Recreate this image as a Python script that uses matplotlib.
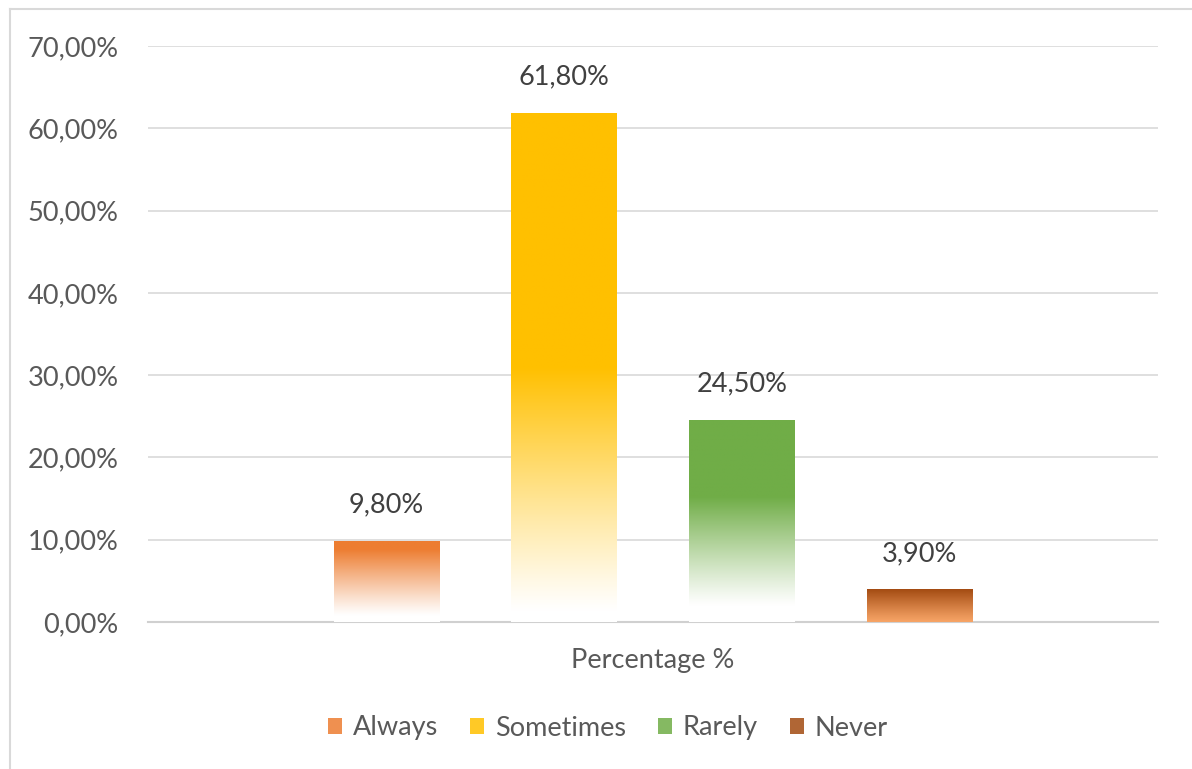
import numpy as np
import matplotlib
matplotlib.use("Agg")
import matplotlib.pyplot as plt
from matplotlib.colors import to_rgb
from matplotlib.patches import Rectangle
from matplotlib.lines import Line2D

# Data
series = ['Always', 'Sometimes', 'Rarely', 'Never']
values = [9.80, 61.80, 24.50, 3.90]
category = 'Percentage %'

# gradient colours: (top, bottom)
top_colors = ['#ED7D31', '#FFC000', '#70AD47', '#A34B12']
bottom_colors = ['#FFFFFF', '#FFFFFF', '#FFFFFF', '#F7A466']

plt.rcParams['font.family'] = ['Lato', 'DejaVu Sans']
text_col = '#595959'
fs = 19.5

fig = plt.figure(figsize=(11.92, 7.69), dpi=100)
ax = fig.add_axes([148 / 1192, 1 - 622 / 769, 1010 / 1192, 576 / 769])

step = 0.1762
width = 0.104
fade = [0.9, 0.5, 0.62, 1.0]
base = [0.08, 0.02, 0.08, 0.0]

for i, (name, v) in enumerate(zip(series, values)):
    x = (i - 1.5) * step
    x0, x1 = x - width / 2, x + width / 2
    t = np.linspace(0, 1, 256)
    # weight of the top colour, from bottom (0) to top (1)
    w = np.clip((t - base[i]) / (fade[i] - base[i]), 0, 1) ** 1.1
    c_top = np.array(to_rgb(top_colors[i]))
    c_bot = np.array(to_rgb(bottom_colors[i]))
    grad = c_bot[None, :] * (1 - w[:, None]) + c_top[None, :] * w[:, None]
    ax.imshow(grad[:, None, :], extent=(x0, x1, 0, v), origin='lower',
              aspect='auto', zorder=3, interpolation='bilinear')
    ax.text(x, v + 2.9, '{:.2f}%'.format(v).replace('.', ','), ha='center',
            va='bottom', fontsize=fs, color='#404040', zorder=4)

ax.set_xlim(-0.5, 0.5)
ax.set_ylim(0, 70)
ax.set_yticks(np.arange(0, 71, 10))
ax.set_yticklabels(['{:.2f}%'.format(t).replace('.', ',') for t in np.arange(0, 71, 10)])
ax.set_xticks([0])
ax.set_xticklabels([category])
ax.tick_params(axis='both', length=0, labelsize=fs, colors=text_col)
ax.tick_params(axis='y', pad=21)
ax.tick_params(axis='x', pad=19)
ax.grid(axis='y', color='#D9D9D9', linewidth=1.2, zorder=0)
ax.set_axisbelow(True)
for s in ['top', 'right', 'left']:
    ax.spines[s].set_visible(False)
ax.spines['bottom'].set_color('#D0D0D0')
ax.spines['bottom'].set_linewidth(1.5)

handles = []
for i, name in enumerate(series):
    handles.append(Rectangle((0, 0), 1, 1, facecolor=top_colors[i], alpha=0.85))
leg = fig.legend(handles, series, loc='center', bbox_to_anchor=(608 / 1192, 1 - 728 / 769),
                 ncol=4, frameon=False, fontsize=fs, handlelength=0.5, handleheight=0.5,
                 handletextpad=0.4, columnspacing=1.2)
for txt in leg.get_texts():
    txt.set_color(text_col)

# chart border (top and left edges visible)
fig.add_artist(Line2D([10 / 1192, 1], [1 - 9 / 769, 1 - 9 / 769], color='#D9D9D9', lw=1.5))
fig.add_artist(Line2D([10 / 1192, 10 / 1192], [0, 1 - 9 / 769], color='#D9D9D9', lw=1.5))

fig.savefig('out.png', dpi=100, facecolor='white')
